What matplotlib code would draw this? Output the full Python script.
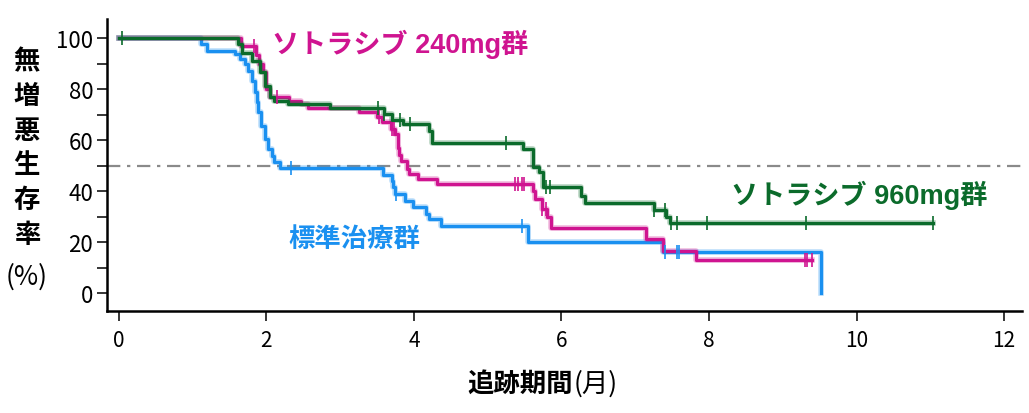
# 無増悪生存率のKaplan-Meier曲線 (ソトラシブ 960mg / 240mg / 標準治療)
import matplotlib
matplotlib.use('Agg')
import matplotlib.pyplot as plt
import matplotlib.patheffects as pe
import numpy as np
from matplotlib.ticker import MultipleLocator

plt.rcParams['font.family'] = ['Noto Sans CJK JP', 'DejaVu Sans']

# ソトラシブ 960mg群
green_t = [0, 1.61, 1.67, 1.80, 1.91, 1.98, 2.05, 2.11, 2.29, 2.86, 3.59, 3.70, 3.85,
           4.20, 4.24, 5.48, 5.61, 5.70, 5.75, 6.27, 6.32, 7.25, 7.42, 7.47, 11.03]
green_s = [100, 97.6, 94, 91, 86.7, 81, 77, 75.4, 74, 72.4, 70.2, 68, 66.3,
           63.7, 59, 56.5, 49.4, 47.5, 41.6, 38.2, 35.3, 32.5, 29.8, 27.5, 27.5]
green_cens = [0.04, 3.52, 3.59, 3.81, 3.95, 5.25, 5.79, 5.84, 7.26, 7.41, 7.49, 7.57,
              7.97, 9.32, 11.03]

# ソトラシブ 240mg群
mag_t = [0, 1.65, 1.86, 1.90, 1.95, 2.00, 2.05, 2.31, 2.47, 2.56, 3.26, 3.50, 3.57,
         3.69, 3.74, 3.78, 3.80, 3.83, 3.90, 3.94, 4.06, 4.31, 5.61, 5.64, 5.73, 5.80,
         5.86, 7.14, 7.37, 7.83, 9.39]
mag_s = [100, 96.7, 93.3, 90, 86.7, 80, 77, 75.4, 74, 72.6, 70.8, 69, 67,
         64.3, 62.4, 57, 54, 51.9, 48.6, 46.7, 44.7, 42.7, 40.1, 36.9, 32.9, 29.7,
         25.4, 21.3, 16.6, 12.9, 12.9]
mag_cens = [1.83, 2.14, 3.53, 3.70, 3.73, 5.37, 5.41, 5.46, 5.49, 5.74, 5.79,
            9.30, 9.33, 9.39]

# 標準治療群
blue_t = [0, 1.12, 1.19, 1.57, 1.64, 1.71, 1.75, 1.80, 1.84, 1.87, 1.89, 1.93, 1.98,
          2.02, 2.07, 2.11, 2.18, 3.58, 3.70, 3.72, 3.74, 3.88, 3.99, 4.17, 4.21,
          4.37, 5.55, 7.38, 9.52]
blue_s = [100, 97.5, 95, 93.7, 91.8, 89.8, 87.2, 83.3, 78.7, 75, 70.9, 65.6, 60.4,
          56.5, 53.9, 51.2, 48.9, 46.4, 44, 41.5, 38.8, 36.2, 33.6, 31, 29,
          26.4, 20, 16, 0]
blue_cens = [2.33, 3.76, 5.47, 7.41, 7.57, 7.59]

GREEN = '#0b6b2b'
MAGENTA = '#cf1490'
BLUE = '#1a90f0'
LABEL_FONT = ['Liberation Sans', 'Noto Sans CJK JP']

fig = plt.figure(figsize=(10.29, 4.14), dpi=100)
ax = fig.add_axes([0.104, 0.246, 0.889, 0.706])


def level_at(t_list, s_list, times):
    idx = np.searchsorted(np.array(t_list), np.array(times), side='right') - 1
    return np.array(s_list)[idx]


# 中央値の補助線
ax.axhline(50, color='#8a8a8a', lw=1.6, ls=(0, (6, 3, 1.5, 3)), zorder=1)

for t, s, cens, col in [(blue_t, blue_s, blue_cens, BLUE),
                        (mag_t, mag_s, mag_cens, MAGENTA),
                        (green_t, green_s, green_cens, GREEN)]:
    halo = [pe.Stroke(linewidth=4.0, foreground=col, alpha=0.3), pe.Normal()]
    ax.step(t, s, where='post', color=col, lw=2.3, path_effects=halo, zorder=3)
    ax.plot(cens, level_at(t, s, cens), ls='none', marker='|', ms=9.5,
            mew=1.2, color=col, zorder=4)

ax.set_xlim(-0.16, 12.24)
ax.set_ylim(-7.1, 107.5)
ax.xaxis.set_major_locator(MultipleLocator(2))
ax.yaxis.set_major_locator(MultipleLocator(20))
ax.yaxis.set_minor_locator(MultipleLocator(10))
ax.spines['top'].set_visible(False)
ax.spines['right'].set_visible(False)
for sp in ['left', 'bottom']:
    ax.spines[sp].set_linewidth(1.8)
ax.tick_params(axis='both', which='both', direction='out', length=7, width=1.1)
ax.tick_params(axis='x', pad=6, labelsize=15)
ax.tick_params(axis='y', pad=3, labelsize=16)

# 横軸ラベル
fig.text(0.557, 0.073, '追跡期間', ha='right', va='center', fontsize=19,
         fontweight='bold')
fig.text(0.557, 0.073, '(月)', ha='left', va='center', fontsize=19)

# 縦軸ラベル
fig.text(0.026, 0.641, '無\n増\n悪\n生\n存\n率', ha='center', va='center',
         fontsize=19, fontweight='bold', linespacing=1.36)
fig.text(0.026, 0.331, '(%)', ha='center', va='center', fontsize=19)

ax.text(2.08, 98, 'ソトラシブ 240mg群', color=MAGENTA, fontsize=19.5,
        family=LABEL_FONT, fontweight='bold', va='center', ha='left')
ax.text(8.30, 38.5, 'ソトラシブ 960mg群', color=GREEN, fontsize=19.5,
        family=LABEL_FONT, fontweight='bold', va='center', ha='left')
ax.text(2.30, 21.5, '標準治療群', color=BLUE, fontsize=19,
        fontweight='bold', va='center', ha='left')

fig.savefig('out.png', dpi=100)
